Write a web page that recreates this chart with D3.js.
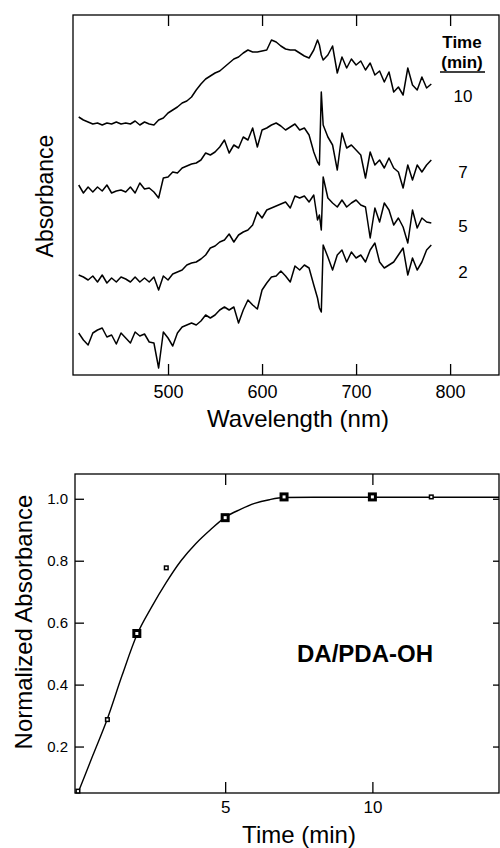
<!DOCTYPE html>
<html>
<head>
<meta charset="utf-8">
<script src="https://cdn.jsdelivr.net/npm/d3@7"></script>
<style>
  body { margin: 0; background: #fff; }
  text { font-family: "Liberation Sans", Arial, Helvetica, sans-serif; fill: #000; }
</style>
</head>
<body>
<div id="chart"></div>
<script>
// ---- spectra (top panel), absorbance in arbitrary offset units ----
const wavelength = [
  405, 410, 415, 420, 425, 430, 435, 440, 445, 450,
  455, 460, 465, 470, 475, 480, 485, 490, 495, 500,
  505, 510, 515, 520, 525, 530, 535, 540, 545, 550,
  555, 560, 565, 570, 575, 580, 585, 590, 595, 600,
  605, 610, 615, 620, 625, 630, 635, 640, 645, 650,
  655, 659, 661, 663, 665, 670, 675, 680, 685, 690,
  695, 700, 705, 710, 715, 720, 725, 730, 735, 740,
  745, 750, 755, 760, 765, 770, 775, 780
];
const abs10min = [
  2.58, 2.55, 2.53, 2.51, 2.52, 2.50, 2.52, 2.51, 2.53, 2.51,
  2.52, 2.51, 2.54, 2.50, 2.53, 2.51, 2.50, 2.55, 2.57, 2.62,
  2.65, 2.68, 2.72, 2.74, 2.78, 2.85, 2.91, 2.96, 2.99, 3.02,
  3.04, 3.08, 3.12, 3.16, 3.18, 3.22, 3.25, 3.23, 3.23, 3.24,
  3.25, 3.35, 3.33, 3.29, 3.26, 3.25, 3.25, 3.22, 3.19, 3.17,
  3.25, 3.35, 3.30, 3.20, 3.15, 3.20, 3.29, 3.02, 3.18, 3.07,
  3.16, 3.10, 3.14, 3.05, 3.12, 3.00, 3.04, 2.93, 3.03, 2.83,
  2.88, 2.80, 3.07, 2.90, 2.85, 2.98, 2.87, 2.91
];
const abs7min = [
  1.90, 1.82, 1.88, 1.83, 1.88, 1.84, 1.90, 1.82, 1.84, 1.85,
  1.83, 1.88, 1.82, 1.92, 1.86, 1.87, 1.83, 1.77, 1.97, 1.98,
  2.03, 2.02, 2.07, 2.09, 2.11, 2.12, 2.15, 2.22, 2.20, 2.23,
  2.28, 2.35, 2.22, 2.30, 2.27, 2.38, 2.35, 2.47, 2.28, 2.45,
  2.47, 2.50, 2.52, 2.49, 2.45, 2.48, 2.51, 2.45, 2.47, 2.40,
  2.23, 2.13, 2.10, 2.83, 2.50, 2.38, 2.30, 2.05, 2.42, 2.27,
  2.30, 2.25, 2.20, 1.97, 2.23, 2.10, 2.15, 2.07, 2.17, 2.07,
  2.03, 1.87, 2.10, 1.95, 2.10, 2.03, 2.10, 2.15
];
const abs5min = [
  1.00, 0.98, 0.95, 0.99, 0.93, 1.00, 0.92, 0.97, 0.93, 0.98,
  0.96, 0.93, 0.98, 0.93, 0.97, 0.93, 0.98, 0.85, 0.99, 0.95,
  1.01, 1.03, 1.05, 1.10, 1.12, 1.13, 1.16, 1.20, 1.27, 1.29,
  1.33, 1.35, 1.41, 1.33, 1.40, 1.43, 1.45, 1.50, 1.63, 1.57,
  1.65, 1.67, 1.69, 1.71, 1.73, 1.67, 1.79, 1.77, 1.79, 1.73,
  1.80, 1.55, 1.60, 1.45, 1.98, 1.77, 1.72, 1.68, 1.75, 1.68,
  1.72, 1.75, 1.70, 1.68, 1.37, 1.67, 1.53, 1.72, 1.65, 1.50,
  1.57, 1.48, 1.32, 1.65, 1.47, 1.57, 1.53, 1.52
];
const abs2min = [
  0.42, 0.35, 0.30, 0.42, 0.45, 0.47, 0.38, 0.40, 0.31, 0.42,
  0.37, 0.32, 0.43, 0.39, 0.41, 0.33, 0.32, 0.07, 0.43, 0.37,
  0.29, 0.42, 0.48, 0.50, 0.52, 0.50, 0.54, 0.60, 0.57, 0.60,
  0.65, 0.68, 0.65, 0.68, 0.52, 0.65, 0.75, 0.70, 0.66, 0.85,
  0.92, 0.98, 0.99, 1.04, 0.99, 0.93, 1.09, 1.05, 1.10, 1.07,
  0.90, 0.77, 0.67, 0.63, 1.30, 1.18, 1.05, 1.20, 1.25, 1.13,
  1.23, 1.17, 1.20, 1.13, 1.25, 1.32, 1.13, 1.07, 1.10, 1.13,
  1.20, 1.27, 1.00, 1.17, 1.05, 1.13, 1.25, 1.30
];
const spectra = [abs2min, abs5min, abs7min, abs10min];
const spectraLabels = ["2", "5", "7", "10"];
const labelAbs = [0.97, 1.43, 1.97, 2.73];
const wavelengthTicks = [500, 600, 700, 800];

// ---- kinetics (bottom panel) ----
const timeLarge = [2, 5, 7, 10];
const normLarge = [0.565, 0.939, 1.006, 1.006];
const timeSmall = [0, 1, 3, 12];
const normSmall = [0.056, 0.287, 0.777, 1.006];
const fitTime  = [0, 0.5, 1, 1.5, 2, 2.5, 3, 3.5, 4, 4.5, 5, 5.5, 6, 6.5, 7, 8, 10, 12, 14.3];
const fitValue = [0.05, 0.17, 0.29, 0.43, 0.56, 0.65, 0.73, 0.80, 0.855, 0.90, 0.94, 0.965, 0.985, 0.997, 1.004, 1.005, 1.005, 1.005, 1.005];
const timeTicks = [5, 10];
const normTicks = [0.2, 0.4, 0.6, 0.8, 1.0];

const svg = d3.select("#chart").append("svg")
  .attr("width", 500)
  .attr("height", 848);

// ================= top panel =================
const x1 = d3.scaleLinear().domain([400, 852]).range([74, 499]);
const y1 = d3.scaleLinear().domain([0, 3.6]).range([375, 15]);

const g1 = svg.append("g");

g1.append("rect")
  .attr("x", 73).attr("y", 15)
  .attr("width", 426).attr("height", 360)
  .attr("fill", "none").attr("stroke", "#000").attr("stroke-width", 1.3);

const axB1 = g1.append("g")
  .attr("transform", "translate(0,375)")
  .call(d3.axisBottom(x1).tickValues(wavelengthTicks).tickSize(-11).tickPadding(10));
axB1.select(".domain").remove();
axB1.selectAll("line").attr("stroke-width", 1.3);
axB1.selectAll("text").style("font-size", "18px");

const axT1 = g1.append("g")
  .attr("transform", "translate(0,15)")
  .call(d3.axisTop(x1).tickValues(wavelengthTicks).tickSize(-11).tickFormat(""));
axT1.select(".domain").remove();
axT1.selectAll("line").attr("stroke-width", 1.3);

const line1 = d3.line()
  .x((d, i) => x1(wavelength[i]))
  .y(d => y1(d));

g1.selectAll("path.trace")
  .data(spectra)
  .enter().append("path")
  .attr("class", "trace")
  .attr("d", line1)
  .attr("fill", "none")
  .attr("stroke", "#000")
  .attr("stroke-width", 1.5)
  .attr("stroke-linejoin", "round");

g1.selectAll("text.tlab")
  .data(spectraLabels)
  .enter().append("text")
  .attr("class", "tlab")
  .attr("x", 463)
  .attr("y", (d, i) => y1(labelAbs[i]))
  .attr("text-anchor", "middle")
  .style("font-size", "17px")
  .text(d => d);

g1.append("text")
  .attr("x", 462).attr("y", 48)
  .attr("text-anchor", "middle")
  .style("font-size", "17px").style("font-weight", "bold")
  .text("Time");
g1.append("text")
  .attr("x", 462).attr("y", 68)
  .attr("text-anchor", "middle")
  .style("font-size", "17px").style("font-weight", "bold")
  .text("(min)");
g1.append("line")
  .attr("x1", 440).attr("x2", 485)
  .attr("y1", 72).attr("y2", 72)
  .attr("stroke", "#000").attr("stroke-width", 1.6);

g1.append("text")
  .attr("x", 298).attr("y", 427)
  .attr("text-anchor", "middle")
  .style("font-size", "24px")
  .text("Wavelength (nm)");

g1.append("text")
  .attr("transform", "translate(53,196) rotate(-90)")
  .attr("text-anchor", "middle")
  .style("font-size", "23px")
  .text("Absorbance");

// ================= bottom panel =================
const x2 = d3.scaleLinear().domain([-0.1, 14.3]).range([75, 499]);
const y2 = d3.scaleLinear().domain([0.05, 1.08]).range([793, 474]);

const g2 = svg.append("g");

g2.append("rect")
  .attr("x", 75).attr("y", 474)
  .attr("width", 424).attr("height", 319)
  .attr("fill", "none").attr("stroke", "#000").attr("stroke-width", 1.3);

const axB2 = g2.append("g")
  .attr("transform", "translate(0,793)")
  .call(d3.axisBottom(x2).tickValues(timeTicks).tickSize(-11).tickPadding(8));
axB2.select(".domain").remove();
axB2.selectAll("line").attr("stroke-width", 1.3);
axB2.selectAll("text").style("font-size", "17px");

const axT2 = g2.append("g")
  .attr("transform", "translate(0,474)")
  .call(d3.axisTop(x2).tickValues(timeTicks).tickSize(-11).tickFormat(""));
axT2.select(".domain").remove();
axT2.selectAll("line").attr("stroke-width", 1.3);

const axL2 = g2.append("g")
  .attr("transform", "translate(75,0)")
  .call(d3.axisLeft(y2).tickValues(normTicks).tickSize(-9).tickPadding(7).tickFormat(d3.format(".1f")));
axL2.select(".domain").remove();
axL2.selectAll("line").attr("stroke-width", 1.3);
axL2.selectAll("text").style("font-size", "15px");

const axR2 = g2.append("g")
  .attr("transform", "translate(499,0)")
  .call(d3.axisRight(y2).tickValues(normTicks).tickSize(-6).tickFormat(""));
axR2.select(".domain").remove();
axR2.selectAll("line").attr("stroke-width", 1.3);

const fitLine = d3.line()
  .x((d, i) => x2(fitTime[i]))
  .y(d => y2(d))
  .curve(d3.curveMonotoneX);

g2.append("path")
  .datum(fitValue)
  .attr("d", fitLine)
  .attr("fill", "none")
  .attr("stroke", "#000")
  .attr("stroke-width", 1.4);

g2.selectAll("rect.big")
  .data(normLarge)
  .enter().append("rect")
  .attr("class", "big")
  .attr("x", (d, i) => x2(timeLarge[i]) - 3)
  .attr("y", d => y2(d) - 3)
  .attr("width", 6).attr("height", 6)
  .attr("fill", "#fff").attr("stroke", "#000").attr("stroke-width", 3);

g2.selectAll("rect.small")
  .data(normSmall)
  .enter().append("rect")
  .attr("class", "small")
  .attr("x", (d, i) => x2(timeSmall[i]) - 1.8)
  .attr("y", d => y2(d) - 1.8)
  .attr("width", 3.6).attr("height", 3.6)
  .attr("fill", "#fff").attr("stroke", "#000").attr("stroke-width", 1.5);

g2.append("text")
  .attr("x", 365).attr("y", 662)
  .attr("text-anchor", "middle")
  .style("font-size", "24px").style("font-weight", "bold")
  .text("DA/PDA-OH");

g2.append("text")
  .attr("x", 299).attr("y", 843)
  .attr("text-anchor", "middle")
  .style("font-size", "24px")
  .text("Time (min)");

g2.append("text")
  .attr("transform", "translate(32,622) rotate(-90)")
  .attr("text-anchor", "middle")
  .style("font-size", "24px")
  .text("Normalized Absorbance");
</script>
</body>
</html>
